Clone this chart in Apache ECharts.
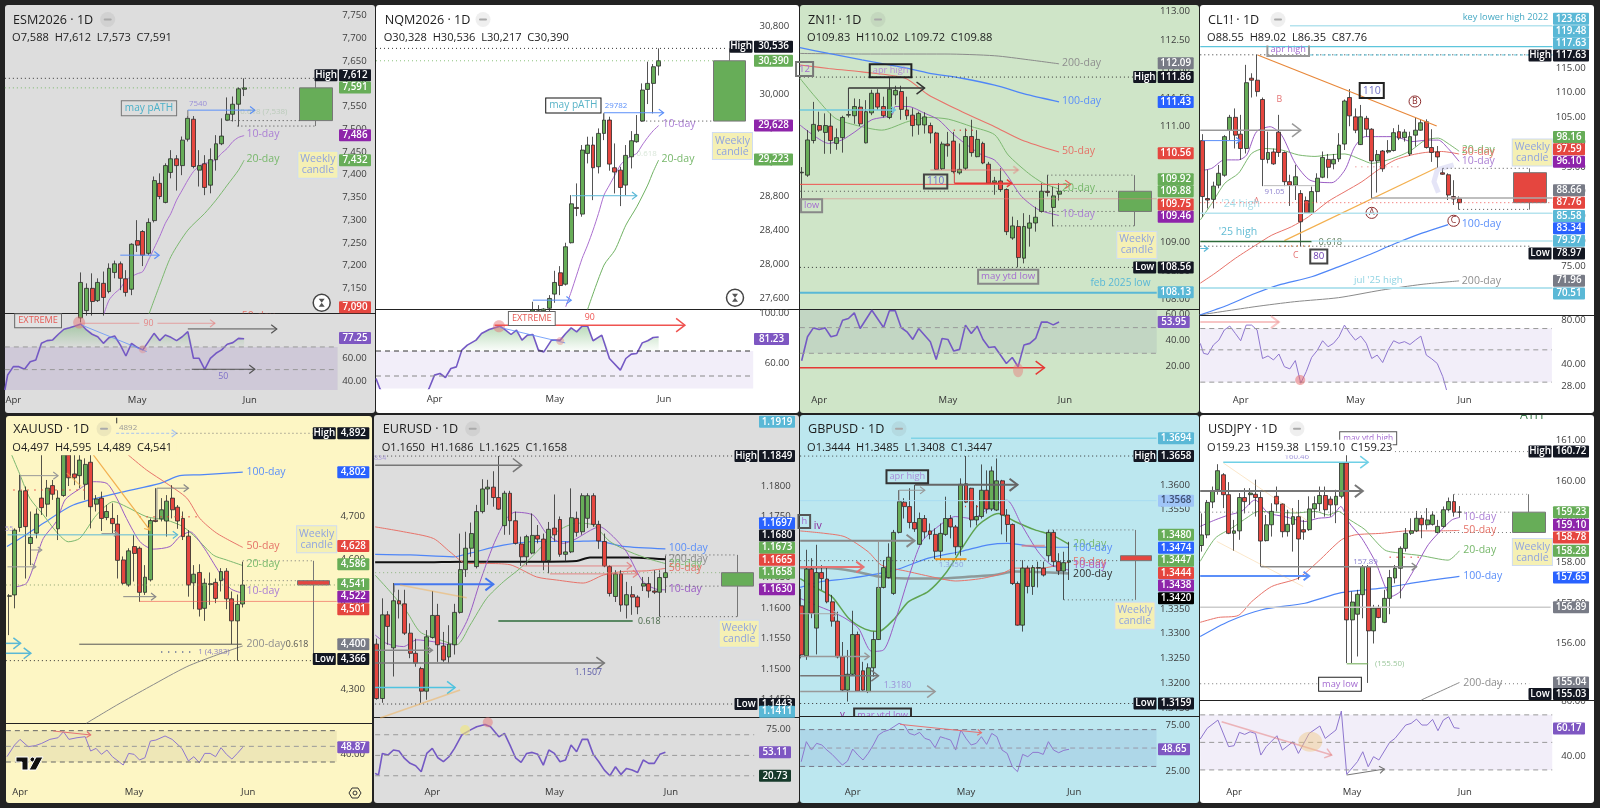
<!DOCTYPE html>
<html>
<head>
<meta charset="utf-8">
<title>Daily chart grid</title>
<style>html,body{margin:0;padding:0;background:#222}#chart{width:1600px;height:808px}</style>
<script src="https://cdn.jsdelivr.net/npm/echarts@6/dist/echarts.min.js"></script>
</head>
<body>
<div id="chart"></div>
<script>
// Candle rows are [open, close, low, high]; the first row of each list sits on the trading day named by *Start.
const esStart = 12;
const esCandles = [[7085,7163,7075,7185],[7101,7150,7090,7161],[7150,7121,7090,7183],[7123,7163,7120,7172],[7161,7130,7090,7187],[7143,7194,7139,7205],[7185,7204,7172,7211],[7204,7172,7146,7209],[7171,7141,7132,7190],[7148,7247,7135,7249],[7255,7245,7230,7300],[7275,7223,7199,7278],[7227,7295,7223,7304],[7299,7387,7295,7396],[7381,7352,7346,7403],[7339,7420,7337,7425],[7405,7435,7392,7454],[7435,7420,7365,7443],[7420,7476,7399,7484],[7478,7524,7473,7529],[7522,7418,7414,7529],[7410,7420,7374,7454],[7424,7372,7355,7443],[7377,7433,7359,7458],[7433,7468,7409,7487],[7468,7485,7465,7524],[7520,7533,7519,7570],[7533,7555,7517,7572],[7555,7589,7506,7592],[7588,7591,7573,7612]];
const esWeekly = [7519,7591,7507,7612];
const esMa10 = [[16,7090],[17,7124],[18,7139],[19,7150],[20,7168],[21,7176],[22,7182],[23,7187],[24,7212],[25,7238],[26,7264],[27,7293],[28,7315],[29,7344],[30,7366],[31,7388],[32,7407],[33,7419],[34,7425],[35,7427],[36,7434],[37,7447],[38,7458],[39,7473],[40,7482],[41,7486]];
const esMa20 = [[24,7090],[26,7157],[28,7220],[31,7278],[34,7315],[36,7344],[38,7377],[40,7410],[41,7432]];
const esRsi = [[-1.5,32],[-1,45.3],[0,52.6],[1,52.6],[2,50.3],[3,57],[4,58.5],[5,73.2],[6,75.6],[7,76.2],[8,81.2],[9,85.6],[10,87],[11,88.5],[12,90.3],[13,85],[14,81.2],[15,79],[16,73.2],[17,78.2],[18,79.7],[19,71.8],[20,62],[21,73.2],[22,69.7],[23,67.4],[24,74.7],[25,82],[26,75.6],[27,80.6],[28,78.5],[29,75.6],[30,79],[31,83.5],[32,60],[33,60],[34,50.3],[35,60],[36,64.4],[37,67.4],[38,72.4],[39,73.8],[40,77.6],[41,77.25]];
const esTicks = [7750,7700,7650,7600,7550,7500,7450,7400,7350,7300,7250,7200,7150];
const esRsiTicks = [60,40];

const nqStart = 18;
const nqCandles = [[27440,27460,27400,27556],[27430,27450,27400,27516],[27450,27470,27420,27480],[27480,27595,27440,27634],[27646,27783,27544,27920],[27897,27747,27634,27975],[27763,28203,27747,28250],[28250,28708,28242,28810],[28665,28653,28563,28948],[28587,29340,28556,29399],[29301,29399,29183,29497],[29399,29132,28751,29497],[29144,29536,29065,29595],[29536,29693,29457,29771],[29693,29175,29097,29732],[29132,29081,28830,29418],[29104,28900,28681,29144],[28928,29277,28810,29399],[29261,29450,29124,29563],[29438,29524,29426,29752],[29681,30046,29673,30124],[30053,30124,29881,30379],[30124,30320,29771,30352],[30328,30390,30217,30536]];
const nqWeekly = [29681,30390,29681,30536];
const nqMa10 = [[24,27496],[25,27673],[26,27869],[27,28065],[28,28222],[29,28398],[30,28595],[31,28810],[32,28928],[33,29046],[34,29163],[35,29230],[36,29269],[37,29301],[38,29399],[39,29489],[40,29567],[41,29628]];
const nqMa20 = [[28,27465],[31,27987],[33,28163],[35,28457],[37,28673],[39,28928],[40,29085],[41,29223]];
const nqRsi = [[-10.7,48],[-10,40],[-9,32],[-2,32],[-1,40],[0,50.7],[1,52],[2,48.8],[3,56],[4,57.3],[5,70.7],[6,74.7],[7.6,78.7],[8.6,84],[10,87.2],[12,89.9],[13,86.7],[14,83.2],[15,86.7],[16,78.7],[17,82.7],[18,83.2],[19,70.7],[20,69.3],[21.4,78.7],[23,78.7],[24,84],[25,88.5],[26,85.3],[27,89.9],[28,89.9],[29,78.2],[30.6,82.7],[32,64],[34,54.7],[35,64],[36,67.5],[37,68],[38,76.5],[39,78.2],[40,80.8],[41,81.23]];
const nqTicks = [30800,30400,30000,29600,29200,28800,28400,28000,27600];
const nqRsiTicks = [100,60];

const znStart = -3;
const znCandles = [[110.2,110.21,109.7,110.3],[110.16,110.77,110.13,110.94],[110.76,111.04,110.71,111.43],[111.02,110.94,110.91,111.26],[110.90,111.02,110.53,111.23],[111.01,110.76,110.53,111.23],[110.71,110.81,110.60,110.97],[110.81,111.16,110.55,111.19],[111.20,111.21,111.16,111.67],[111.19,111.35,111.05,111.49],[111.34,111.05,111.01,111.48],[110.72,111.26,110.71,111.46],[111.24,111.58,111.20,111.64],[111.58,111.34,111.29,111.65],[111.35,111.19,111.16,111.52],[111.16,111.65,111.13,111.86],[111.55,111.63,111.38,111.71],[111.61,111.30,111.12,111.71],[111.29,111.19,111.12,111.52],[111.20,111.02,110.83,111.32],[111.03,111.23,110.86,111.26],[111.03,111.17,110.88,111.25],[111.02,110.89,110.71,111.07],[110.89,110.26,110.25,110.91],[110.27,110.70,110.25,110.74],[110.70,110.67,110.48,110.91],[110.75,110.22,110.19,110.91],[110.20,110.26,110.17,110.71],[110.28,110.83,110.25,110.97],[110.83,110.55,110.48,111.12],[110.48,110.78,110.47,110.94],[110.71,110.37,110.35,110.74],[110.35,110.02,110.01,110.39],[110.03,110.06,109.82,110.13],[110.06,109.91,109.87,110.28],[109.91,109.18,109.12,109.93],[109.07,109.28,109.04,109.44],[109.27,108.73,108.56,109.38],[108.72,109.27,108.63,109.50],[109.24,109.33,108.92,109.47],[109.33,109.43,109.18,109.61],[109.53,109.88,109.51,110.02],[109.88,109.86,109.79,110.16],[109.60,109.80,109.27,109.96],[109.83,109.88,109.72,110.02]];
const znWeekly = [109.53,109.88,109.28,110.16];
const znMa10 = [[-3.3,111.03],[-0.7,110.83],[1.6,110.71],[3.9,110.77],[6.1,110.91],[9,111.12],[12.4,111.20],[13,111.35],[15.2,111.35],[18.1,111.23],[20.4,111.12],[22.7,110.89],[24.9,110.71],[27.8,110.51],[30,110.42],[32.3,110.13],[34.6,109.79],[37.5,109.56],[41,109.46]];
const znMa20 = [[-3.3,111.84],[-0.7,111.52],[2.7,111.15],[6.1,111.03],[10.7,110.94],[15.2,111.09],[18.7,111.16],[22.1,111.13],[26.1,111.00],[30,110.86],[32.3,110.51],[35.8,110.19],[38.3,110.02],[41,109.92]];
const znMa50 = [[-3.3,112.07],[1.6,112.01],[7.3,111.95],[14.7,111.84],[18.7,111.55],[24.4,111.26],[30,111.00],[34.6,110.77],[41,110.56]];
const znMa100 = [[-3.3,112.37],[1.6,112.27],[7.3,112.16],[14.7,112.02],[18.7,111.93],[24.4,111.84],[30,111.72],[35.8,111.55],[41,111.43]];
const znMa200 = [[-3.3,112.27],[7.3,112.26],[21.5,112.26],[30,112.23],[35.8,112.16],[41,112.09]];
const znRsi = [[-3,24.3],[-2,42.7],[-1,49.5],[0,48.3],[1,49.5],[2,42.7],[3,43.9],[4,55.4],[5,56.7],[6,61],[7,49],[9,63],[11,49.8],[12,62.6],[13,62.6],[14,49.8],[15,46.5],[16,40.6],[17,49],[19,38.8],[20,25.3],[21,41.4],[22,40.6],[23,31.7],[24,33],[25,51.6],[26,45.2],[27,50.8],[28,40.6],[29,34.5],[30,35],[32,22.2],[33,26.8],[34,19.7],[35,36.3],[36,37.6],[37,41.4],[38,53.9],[39,53.9],[40,51.8],[41,53.95]];
const znTicks = [113,112.5,112,111.5,111,110.5,110,109.5,109,108.5,108];
const znRsiTicks = [60,40,20];

const clStart = -7;
const clCandles = [[100.3,89.0,84.9,101.6],[88.6,88.3,86.6,94.4],[88.43,91.1,86.6,92],[91.3,93.7,90.66,95.37],[93.3,101.1,93,101.4],[102.4,105,100.4,105.5],[105,101.4,98.7,106.8],[101.6,98.7,96.4,105.5],[98.7,112,97.7,115.6],[112.9,112.5,109,113.9],[112.5,110.2,109.2,117.63],[108.6,96.5,91.1,109],[96.5,97.9,95.7,102.1],[98,95.6,95.4,98.7],[102,97.9,97,105.5],[97.9,92,91.1,98.1],[92,91.3,87.1,93.4],[91.3,93,88.3,95.4],[89.6,83.9,78.97,90.3],[88.2,85.7,85.6,89],[85.6,90,85.5,91],[90,92.7,87.8,93.7],[92.9,96.9,92.7,98.1],[96.5,94.9,92.7,97.6],[95.6,96.5,94.5,97.6],[96.6,99.4,96,101.8],[99.6,108.3,98.4,108.6],[109,105.3,103.2,110.7],[105.1,102.4,101.8,106.8],[99.5,105.1,99.4,107.5],[104.8,102.6,101.1,105.3],[102.6,96.2,88.6,102.8],[96.2,97.5,89.8,98.4],[98.2,94.6,94,98.4],[98,98.3,97.7,100.4],[98.3,101.9,98.1,102.8],[102.1,100.8,100.4,103.5],[100.9,102,100.1,102.6],[97.6,101.1,97.2,102.1],[101.4,102.4,99.1,105],[102.4,103.9,102.3,104.6],[104.1,98.9,98.7,104.6],[98.9,97.9,96,102.6],[98,97,94.8,99.2],[93.8,93.5,93.4,94.7],[93.4,89.3,88.3,93.7],[89,88.5,87.3,92.3],[88.55,87.76,86.35,89.02]];
const clWeekly = [93.82,87.76,86.35,94.7];
const clMa10 = [[-7.4,94.2],[-5.3,94.7],[-3,96.4],[-0.4,96.4],[1.1,97.4],[2.9,102.1],[5.4,103.1],[7.5,101.4],[10,95.7],[12.7,92.3],[16.7,91.8],[19.1,94.4],[20.9,99.1],[22.8,101.1],[25.2,101.1],[28.3,101.1],[31.3,100.1],[34.4,100.4],[36.2,100.4],[38,98.7],[40,96.1]];
const clMa20 = [[-7.4,84.26],[-5.3,87.6],[-2.9,91.7],[-0.4,93.7],[2,97.7],[4.4,98.7],[7.5,98.4],[10.6,97.4],[13.6,97.1],[16,97.4],[19.1,97.6],[22.2,96.4],[24,95.7],[27,96.4],[29.5,97.4],[31.3,98.4],[33.8,100.4],[36.2,100.8],[38,99.7],[40,98.16]];
const clMa50 = [[-7.4,71.5],[-4.7,73.5],[-1,76.5],[3.2,79.5],[5.7,81.2],[9.3,82.9],[12.4,84.9],[16,88],[19.1,90],[22.2,92],[25.2,94.4],[28.3,96.4],[31.3,97.4],[33.8,97.9],[36.8,98.1],[40,97.59]];
const clMa100 = [[-7.5,65.07],[-2.3,67.1],[2.6,69.4],[6.9,71.1],[13,72.8],[17.9,74.8],[23.4,77.2],[28.3,79.5],[33.2,81.6],[38,83.34]];
const clMa200 = [[-7.5,65.07],[2.6,66.75],[9.9,67.76],[17.9,68.57],[25.8,70.1],[33.2,71.26],[40,71.96]];
const clRsi = [[-7.4,55.4],[-6.8,47.3],[-6,46.5],[-5,54],[-4,58.3],[-3,68.4],[-2,72.8],[-1,64.9],[0,57.7],[1,73.9],[2,73.9],[3,68.4],[4,43.6],[5,45.4],[6,42.6],[7,46.8],[8,38.3],[9,37],[10,42.2],[11,29.5],[12,35.4],[13,44.4],[14,49.4],[15,57.7],[16,52.5],[17,55.4],[18,61.5],[19,73.9],[20,64.9],[21,58.3],[22,62.1],[23,55.4],[24,43.6],[25,46],[26,40.9],[27,49.9],[28,57.7],[29,55.4],[30,56.9],[31,54.4],[32,58.3],[33,62.1],[34,46],[35,43.3],[36,40.3],[37,32.8],[37.7,26.5]];
const clTicks = [115,110,105,100,95,90,85,80,75];
const clRsiTicks = [80,40,28];

const xauStart = -2;
const xauCandles = [[4515,4516,4425,4520],[4518,4668,4487,4672],[4674,4759,4664,4796],[4759,4676,4556,4769],[4637,4651,4587,4711],[4661,4705,4649,4718],[4742,4720,4703,4842],[4728,4765,4699,4784],[4771,4751,4738,4784],[4671,4742,4645,4760],[4748,4842,4745,4858],[4842,4789,4770,4875],[4798,4789,4772,4842],[4794,4830,4765,4842],[4774,4820,4738,4834],[4825,4722,4672,4842],[4728,4740,4711,4749],[4742,4695,4666,4757],[4697,4711,4691,4726],[4695,4683,4661,4730],[4682,4598,4556,4703],[4599,4545,4541,4607],[4541,4620,4537,4626],[4630,4614,4549,4657],[4626,4524,4502,4630],[4524,4559,4518,4587],[4553,4690,4549,4695],[4691,4688,4686,4765],[4694,4715,4688,4742],[4689,4735,4653,4749],[4742,4715,4695,4772],[4721,4689,4671,4726],[4695,4653,4645,4711],[4654,4541,4514,4668],[4546,4566,4485,4587],[4570,4485,4468,4589],[4487,4545,4458,4556],[4542,4544,4495,4570],[4547,4510,4499,4556],[4551,4572,4526,4580],[4573,4509,4485,4580],[4509,4458,4404,4526],[4458,4496,4366,4519],[4497,4541,4489,4595]];
const xauWeekly = [4551,4541,4366,4597];
const xauMa10 = [[-0.6,4537],[1.2,4545],[2.8,4595],[4.3,4649],[6.7,4688],[8.3,4738],[10.7,4761],[13.5,4780],[16,4776],[17.8,4742],[19.6,4695],[22.1,4641],[24.5,4624],[27.6,4630],[29.4,4653],[31.3,4664],[33.7,4630],[36.2,4580],[38.7,4533],[41,4522]];
const xauMa20 = [[-2.3,4865],[0,4796],[1.8,4742],[4.3,4703],[6.7,4664],[8.9,4641],[11,4649],[14.1,4703],[17.2,4734],[19.6,4722],[23.3,4699],[27,4691],[30,4676],[32.5,4649],[35.6,4610],[38,4599],[41,4586]];
const xauMa50 = [[19.9,4842],[23.3,4807],[27,4776],[30.7,4742],[33.1,4695],[36.2,4661],[41,4628]];
const xauMa100 = [[-2.4,4630],[0.6,4653],[4.3,4684],[9.8,4726],[17.8,4753],[25.8,4776],[29.4,4794],[33.1,4796],[41,4802]];
const xauMa200 = [[12.2,4221],[17.8,4263],[23.9,4306],[30.7,4352],[36.2,4379],[41,4400]];
const xauRsi = [[-2.4,36.8],[-1,51.7],[0,58.9],[1.5,49.6],[2.8,50.9],[4,53.8],[5.5,58.9],[7,61],[8,68.7],[9,58.9],[10.5,61],[12,62.3],[13,44],[14,47.4],[15,39.8],[16,45.3],[17,36.8],[19,26.2],[20,41],[21,39.8],[22,32.6],[23,35.5],[24,56.8],[25,58],[26.7,63.2],[28,58.9],[29.8,47.4],[31,31.3],[32,36.8],[33,29.1],[34,41],[35,41],[36,36.8],[37,48.3],[38,39.8],[39,33.8],[40,41],[41,48.87]];
const xauTicks = [4700,4600,4500,4400,4300];
const xauRsiTicks = [40];

const eurStart = -10;
const eurCandles = [[1.1541,1.1452,1.1450,1.1550],[1.1452,1.1589,1.1445,1.1616],[1.1589,1.1570,1.1540,1.1595],[1.1535,1.1612,1.1488,1.1641],[1.1612,1.1607,1.1583,1.1630],[1.1607,1.1559,1.1556,1.1630],[1.1559,1.1526,1.1518,1.1575],[1.1526,1.1510,1.1504,1.1550],[1.1501,1.1464,1.1445,1.1504],[1.1464,1.1553,1.1450,1.1564],[1.1552,1.1588,1.1550,1.1628],[1.1588,1.1540,1.1512,1.1607],[1.1538,1.1515,1.1512,1.1561],[1.1520,1.1541,1.1510,1.1572],[1.1540,1.1593,1.1524,1.1607],[1.1593,1.1663,1.1591,1.1722],[1.1663,1.1698,1.1651,1.1725],[1.1698,1.1722,1.1684,1.1740],[1.1668,1.1758,1.1665,1.1769],[1.1758,1.1795,1.1755,1.1811],[1.1795,1.1798,1.1769,1.1810],[1.1798,1.1781,1.1766,1.1824],[1.1781,1.1762,1.1761,1.1849],[1.1735,1.1788,1.1720,1.1792],[1.1788,1.1743,1.1720,1.1792],[1.1743,1.1706,1.1704,1.1758],[1.1705,1.1684,1.1669,1.1717],[1.1684,1.1717,1.1670,1.1720],[1.1690,1.1719,1.1688,1.1755],[1.1719,1.1713,1.1706,1.1736],[1.1713,1.1677,1.1662,1.1722],[1.1678,1.1729,1.1657,1.1741],[1.1731,1.1720,1.1709,1.1786],[1.1745,1.1688,1.1684,1.1750],[1.1688,1.1692,1.1676,1.1709],[1.1692,1.1748,1.1690,1.1796],[1.1747,1.1724,1.1717,1.1758],[1.1725,1.1784,1.1720,1.1788],[1.1747,1.1784,1.1731,1.1788],[1.1784,1.1737,1.1733,1.1788],[1.1737,1.1710,1.1697,1.1743],[1.1709,1.1669,1.1667,1.1722],[1.1668,1.1624,1.1619,1.1670],[1.1619,1.1656,1.1610,1.1662],[1.1656,1.1605,1.1594,1.1662],[1.1605,1.1622,1.1583,1.1643],[1.1622,1.1618,1.1589,1.1636],[1.1618,1.1602,1.1590,1.1621],[1.1636,1.1640,1.1628,1.1651],[1.1640,1.1628,1.1617,1.1651],[1.1628,1.1626,1.1623,1.1662],[1.1626,1.1650,1.1586,1.1662],[1.1650,1.1658,1.1625,1.1686]];
const eurWeekly = [1.1636,1.1658,1.1586,1.1687];
const eurMa10 = [[-10.3,1.1556],[-8.2,1.1542],[-5.2,1.1537],[-2.8,1.1548],[0.2,1.1545],[3.2,1.1540],[6.2,1.1578],[8.6,1.1643],[11,1.1703],[13.4,1.1747],[14.9,1.1757],[18.2,1.1752],[20.6,1.1722],[23.6,1.1706],[25.4,1.1711],[30.2,1.1733],[32.6,1.1717],[35,1.1692],[38,1.1643],[41,1.1630],[42,1.1630]];
const eurMa20 = [[-10.3,1.1654],[-7.6,1.1627],[-4.6,1.1594],[-2.2,1.1561],[0.8,1.1550],[4.4,1.1540],[6.8,1.1572],[9.8,1.1616],[12.8,1.1643],[15.8,1.1665],[18.8,1.1692],[22.4,1.1725],[26,1.1739],[29,1.1736],[32,1.1709],[35.6,1.1692],[39.2,1.1680],[42,1.1673]];
const eurMa50 = [[-10.3,1.1733],[-5.2,1.1725],[0.2,1.1714],[3.2,1.1692],[6.2,1.1673],[9.8,1.1673],[14,1.1671],[18.8,1.1651],[22.4,1.1646],[27.2,1.1641],[30.8,1.1654],[34.4,1.1660],[38.6,1.1661],[42,1.1665]];
const eurMa100 = [[-10.3,1.1688],[-4,1.1687],[3.8,1.1684],[6.8,1.1690],[12.8,1.1703],[18.8,1.1709],[24.8,1.1709],[29.6,1.1710],[34.4,1.1701],[42,1.1697]];
const eurMa200 = [[-10.3,1.1675],[-2.2,1.1675],[5.6,1.1676],[14,1.1676],[21.2,1.1676],[26,1.1677],[28.4,1.1683],[35.6,1.1683],[42,1.1680]];
const eurRsi = [[-10.3,32.6],[-9.7,31],[-9,51.9],[-8,50.3],[-7,55.2],[-6,54.2],[-5,47.1],[-4,42.3],[-3,40],[-2,34.2],[-1,51.9],[0,56.8],[1,47.7],[2,43.9],[3,48.7],[4,56.8],[5.3,69.7],[6.8,74.5],[8,77.7],[9.5,80],[10.5,77.7],[12,68],[13,71.3],[14,60],[15,47.7],[16,43.2],[17,51.9],[18,52.9],[19,51],[20,40.6],[21,55.2],[22,51.9],[23,43.9],[24,45.5],[25,60],[26,53.5],[27,65.5],[28,65.5],[29,51],[30,43.9],[31,35.8],[32,30.3],[33,39],[34,31.6],[35,37.4],[36,35.8],[37,33.5],[38,45.5],[39,42.3],[40,42.3],[41,51],[42,53.11]];
const eurTicks = [1.18,1.175,1.17,1.165,1.16,1.155,1.15,1.145];
const eurRsiTicks = [75];

const gbpStart = -10;
const gbpCandles = [[1.3356,1.3257,1.3250,1.3390],[1.3255,1.3430,1.3247,1.3469],[1.3430,1.3341,1.3331,1.3452],[1.3311,1.3423,1.3258,1.3479],[1.3423,1.3411,1.3388,1.3438],[1.3410,1.3364,1.3361,1.3432],[1.3364,1.3325,1.3314,1.3378],[1.3325,1.3253,1.3250,1.3344],[1.3253,1.3186,1.3183,1.3283],[1.3186,1.3218,1.3163,1.3267],[1.3218,1.3298,1.3215,1.3346],[1.3298,1.3184,1.3183,1.3304],[1.3225,1.3186,1.3184,1.3243],[1.3183,1.3231,1.3180,1.3240],[1.3231,1.3288,1.3213,1.3304],[1.3288,1.3393,1.3287,1.3485],[1.3393,1.3433,1.3391,1.3448],[1.3413,1.3454,1.3411,1.3482],[1.3381,1.3504,1.3378,1.3509],[1.3504,1.3566,1.3502,1.3589],[1.3565,1.3556,1.3532,1.3573],[1.3556,1.3524,1.3512,1.3593],[1.3524,1.3511,1.3505,1.3600],[1.3480,1.3532,1.3479,1.3544],[1.3532,1.3505,1.3492,1.3539],[1.3507,1.3500,1.3490,1.3522],[1.3500,1.3466,1.3450,1.3512],[1.3466,1.3502,1.3451,1.3522],[1.3500,1.3532,1.3497,1.3576],[1.3532,1.3515,1.3492,1.3539],[1.3515,1.3475,1.3458,1.3519],[1.3475,1.3601,1.3457,1.3613],[1.3602,1.3565,1.3563,1.3658],[1.3593,1.3529,1.3514,1.3594],[1.3529,1.3536,1.3518,1.3559],[1.3536,1.3589,1.3532,1.3641],[1.3589,1.3551,1.3542,1.3629],[1.3551,1.3628,1.3547,1.3637],[1.3549,1.3608,1.3547,1.3653],[1.3608,1.3539,1.3500,1.3610],[1.3539,1.3520,1.3485,1.3551],[1.3520,1.3401,1.3398,1.3522],[1.3401,1.3317,1.3316,1.3405],[1.3317,1.3432,1.3304,1.3448],[1.3432,1.3395,1.3381,1.3437],[1.3395,1.3433,1.3378,1.3438],[1.3432,1.3433,1.3393,1.3445],[1.3432,1.3418,1.3415,1.3445],[1.3457,1.3504,1.3445,1.3509],[1.3504,1.3445,1.3435,1.3509],[1.3445,1.3426,1.3418,1.3462],[1.3426,1.3443,1.3368,1.3465],[1.3444,1.3447,1.3408,1.3485]];
const gbpWeekly = [1.3457,1.3447,1.3368,1.3509];
const gbpMa10 = [[-10.2,1.3371],[-7.3,1.3358],[-4,1.3344],[-1.5,1.3331],[1.1,1.3311],[3.7,1.3264],[6,1.3267],[8.2,1.3324],[10.8,1.3411],[13.4,1.3485],[16.6,1.3516],[19.9,1.3536],[23.1,1.3532],[27,1.3556],[29.9,1.3569],[32.8,1.3519],[36,1.3465],[38.6,1.3438],[42,1.3428]];
const gbpMa20 = [[-10.2,1.3411],[-7.3,1.3393],[-4,1.3374],[-0.8,1.3331],[2.4,1.3309],[5,1.3304],[8.2,1.3331],[10.8,1.3364],[14.7,1.3385],[18,1.3421],[21.2,1.3472],[24.4,1.3519],[28.3,1.3542],[31.5,1.3526],[35.4,1.3509],[38.6,1.3499],[42,1.3480]];
const gbpMa50 = [[-10.2,1.3507],[-5.4,1.3502],[-1.5,1.3495],[3,1.3465],[5.6,1.3438],[10.8,1.3425],[16,1.3413],[19.9,1.3406],[25,1.3411],[29,1.3421],[31.5,1.3432],[36.7,1.3432],[42,1.3444]];
const gbpMa100 = [[-10.2,1.3393],[-6,1.3405],[-0.8,1.3411],[8.2,1.3428],[14.7,1.3452],[21.2,1.3466],[26.3,1.3479],[30.2,1.3482],[35.4,1.3475],[42,1.3474]];
const gbpMa200 = [[-10.2,1.3432],[-4.7,1.3432],[0.5,1.3425],[5,1.3415],[10.2,1.3411],[16.6,1.3411],[23.1,1.3415],[27.6,1.3418],[31.5,1.3425],[42,1.3421]];
const gbpRsi = [[-10,35.1],[-9,56.9],[-8,47.8],[-7,55.1],[-6,53.3],[-5,47.8],[-4,43.1],[-2,31.5],[-1,35.9],[0,48.9],[1,42.4],[2,37],[3,44.2],[4,53.3],[5,64.1],[6,67.8],[7,69.6],[8,73.2],[9,76.8],[10,75],[11,65.9],[12,64.1],[13,67],[14,60.5],[15,58.7],[16,50.4],[17,62.3],[18,60.5],[19,58.7],[20,47.8],[21,69.6],[22,60.5],[23,53.3],[24,55.1],[25,62.3],[26,54],[27,65.9],[28,62.3],[29,47.8],[30,44.2],[31,29.7],[32,24.3],[33,43.1],[34,40.6],[35,45.3],[36,45.3],[37,43.1],[38,56.9],[39,47.8],[40,44.9],[41,47.5],[42,48.65]];
const gbpTicks = [1.36,1.355,1.35,1.345,1.34,1.335,1.33,1.325,1.32,1.315];
const gbpRsiTicks = [75,25];

const jpyStart = -6;
const jpyCandles = [[158.41,158.67,158.26,159.2],[158.67,159.47,158.59,159.53],[159.48,159.75,159.33,159.86],[159.78,160.25,159.66,160.41],[160.15,159.66,159.33,160.19],[159.66,158.71,158.69,159.97],[158.71,158.77,158.28,159.04],[158.77,159.59,158.55,159.70],[159.59,159.49,159.2,159.82],[159.66,159.70,159.41,159.82],[159.67,159.59,159.12,160.03],[159.59,158.52,157.89,159.74],[158.53,158.92,158.51,159.16],[158.92,159.25,158.63,159.45],[159.62,159.43,159.25,159.86],[159.43,158.75,158.61,159.45],[158.75,158.93,158.63,159.29],[158.93,159.12,158.26,159.33],[159.12,158.57,157.57,159.53],[158.80,158.74,158.55,159.04],[158.80,159.31,158.77,159.62],[159.31,159.44,159.08,159.62],[159.44,159.64,159.25,159.86],[159.64,159.29,159.12,159.86],[159.55,159.41,159.12,159.62],[159.41,159.62,158.96,159.78],[159.62,160.44,159.57,160.46],[160.44,156.58,155.52,160.72],[156.58,157.02,155.52,157.28],[156.72,157.21,155.68,157.32],[157.2,157.89,156.62,157.93],[157.89,156.31,155.03,157.93],[156.31,156.87,156.0,156.95],[156.87,156.64,156.62,156.95],[156.52,157.11,156.50,157.32],[157.11,157.62,156.72,157.81],[157.61,157.85,157.48,157.93],[157.85,158.34,157.11,158.39],[158.34,158.71,158.26,158.84],[158.71,158.77,158.67,159.08],[158.77,159.08,158.74,159.26],[159.08,158.92,158.59,159.16],[158.92,159.04,158.80,159.33],[158.93,159.16,158.90,159.25],[158.73,158.88,158.71,159.04],[158.88,159.29,158.85,159.37],[159.29,159.49,159.25,159.59],[159.49,159.23,159.12,159.67],[159.23,159.23,159.10,159.38]];
const jpyWeekly = [158.73,159.23,158.73,159.67];
const jpyMa10 = [[-6.3,158.88],[-3.5,159.04],[-1,159.16],[1.4,159.25],[3.9,159.53],[6.4,159.21],[9.5,159.12],[13.2,159.0],[15.7,159.08],[18.2,159.12],[19.9,159.37],[21.3,159.0],[23.8,158.59],[26.3,158.02],[29.4,157.16],[31,157.28],[33.7,157.85],[36.2,158.43],[38.7,158.80],[40.6,159.04],[42,159.10]];
const jpyMa20 = [[-6.3,158.02],[-3.5,158.59],[-0.4,158.84],[2.7,159.12],[4.5,159.25],[7.6,159.23],[11.4,159.21],[15.1,159.25],[17.6,159.16],[19.4,159.25],[21.6,159.04],[24.4,158.80],[28.1,158.30],[31.2,158.22],[34.9,158.16],[39.9,158.05],[42,158.28]];
const jpyMa50 = [[-6.3,156.52],[-2.9,156.64],[0.8,156.69],[3.3,157.03],[7,157.40],[12,157.61],[15.7,158.02],[20,158.55],[22.5,158.67],[27.5,158.71],[32.5,158.77],[37.5,158.77],[42,158.78]];
const jpyMa100 = [[-6.3,156.17],[-1,156.54],[5.2,156.83],[13.2,156.99],[20,157.25],[27.5,157.36],[34.9,157.52],[42,157.65]];
const jpyMa200 = [[34.9,154.61],[42,155.04]];
const jpyRsi = [[-6.3,52.4],[-5,60.2],[-3,66.2],[-1,46.9],[0,47.6],[1,57.3],[2,55.8],[3,57.7],[4,56.5],[5,40.8],[6,46.9],[8,54.8],[9,44.4],[11,50.5],[12,42],[14,56.5],[16,61.9],[17,52.9],[19,59],[20,72.8],[21,26.8],[23,36],[24,43.2],[25,32.3],[26,39.6],[27,37.2],[29,50],[30,52.9],[32,62.6],[33,63.8],[34,66.9],[35,62.6],[36,62.6],[37,66.7],[38,58.5],[39,66.2],[40,68.6],[41,60.7],[42,60.17]];
const jpyTicks = [161,160,159,158,157,156,155];
const jpyRsiTicks = [80,40];

// Palette shared by the panes
const GREEN = '#67ad58', RED = '#e5463f', PURPLE = '#8e24aa', BLUE = '#2962ff', CYAN = '#5ab8d6', GREY = '#787b86', INK = '#131722', RSI_TAG = '#7e57c2';
const C10 = '#ab6fd0', C20 = '#7cb870', C50 = '#e8736a', C100 = '#4f86f7', C200 = '#8a8a8a';
const LC10 = '#ab7fd4', LC20 = '#78b86c', LC50 = '#e57368', LC100 = '#5b8ff9', LC200 = '#8f8f8f';
const BANDV = 'rgba(126,87,194,0.10)';
const PINK = 'rgba(230,120,120,0.5)', ARROWBLUE = '#5b8ff9', LBL = '#9a8fd8', TXTP = '#a46bd0';
const DOT = [1, 3], DASH = [5, 4];
const FONT = '"Open Sans","Noto Sans",sans-serif';

// Annotation helpers: positions are in (trading day, price) space
const L = (x1, y1, x2, y2, c, w = 1, dash = null, arrow = 0) => ({ k: 'line', p: [[x1, y1], [x2, y2]], c, w, dash, arrow });
const P = (p, c, w = 1) => ({ k: 'line', p, c, w, dash: null, arrow: 0 });
const T = (x, y, t, c, s = 10, o = {}) => ({ k: 'text', x, y, t, c, s, ...o });
const M = (x, y, t, c) => T(x, y, t, c, 12, { align: 'left' });
const B = (x, y, t, c, s = 11, border = '#333', bg = null, o = {}) => T(x, y, t, c, s, { box: true, border, bg, ...o });
const W = (x, y) => T(x, y, 'Weekly\ncandle', '#8fa3e0', 12, { box: true, border: '#cfdcf2', bg: '#f5f0b4', lh: 11, pad: [2, 2, 2, 2] });
const O = (x, y, rx, ry, c) => ({ k: 'oval', x, y, rx, ry, c });
const R = (x1, y1, x2, y2, c) => ({ k: 'rect', x1, y1, x2, y2, c });

const esNotes = [
  L(-1.5,7612,53.8,7612,'#333',1,DOT), L(-1.5,7591,50.3,7591,'#7ab86c',1,DOT),
  L(31,7542,31,7524,'#777'), L(31,7542,42.9,7542,ARROWBLUE,1,null,6), T(32.8,7556,'7540',LBL,9),
  T(44.5,7539,'0.618 (7,538)','rgba(120,170,120,0.35)',9),
  B(24.1,7546,'may pATH','#4bb0c8',11.5,'#777','#dddddd'),
  L(19,7223,25.9,7223,ARROWBLUE,1,null,6),
  M(41.4,7489,'10-day',LC10), M(41.4,7434,'20-day',LC20),
  T(43.5,7090,'50-day',LC50,12,{clip:true}),
  L(39.8,7507,53.8,7507,'#444',1,DOT), L(37.9,7519,50.9,7519,'#444',1,DOT),
  W(54.1,7422)
];
const esRsiNotes = [
  R(-1.5,70,57.6,32,'rgba(126,87,194,0.14)'),
  L(-1.5,70,57.6,70,'#999',1,DASH), L(-1.5,50,57.6,50,'#999',1,DASH),
  O(11.7,91.5,6,6,PINK), L(12,90.9,35.8,90.9,'rgba(230,120,120,0.6)',1,null,6),
  T(24,90.9,'90','rgba(230,120,120,0.85)',10,{box:true,bg:'#dddddd',border:'#dddddd',pad:[0,3,0,3]}),
  L(31,85.9,46.8,85.9,'#555',1,null,7), L(31.7,50.3,42.9,50.3,'#555',1,null,7),
  T(37.3,43.8,'50','#7e70c8',10),
  L(12.1,89.4,23.7,65.9,'rgba(91,143,249,0.75)'), O(23,67.9,4,4,'rgba(230,120,120,0.35)'),
  B(4.4,93.2,'EXTREME','#e55a55',10.5,'#666','#e3e3e3')
];
const nqNotes = [
  L(-10.7,30536,53.7,30536,'#333',1,DOT), L(-10.7,30390,51,30390,'#8ac27c',1,DOT),
  L(31,29779,31,29700,'#777'), L(31,29779,41.9,29779,ARROWBLUE,1,null,6), T(33.2,29858,'29782',ARROWBLUE,9),
  B(25.4,29865,'may pATH','#5ab4c8',11.5,'#111','#fff'),
  L(25.1,28803,37,28803,CYAN,1,null,6), L(18,27575,25,27575,ARROWBLUE,1,null,6),
  T(38.8,29301,'0.618','rgba(120,170,120,0.3)',9),
  M(41.7,29642,'10-day',LC10), M(41.5,29230,'20-day',LC20),
  L(38,29681,51,29681,'#444',1,DOT),
  W(54.5,29387)
];
const nqRsiNotes = [
  R(-10.7,70,58.3,40,BANDV),
  L(-10.7,70,58.3,70,'#333',1,DASH), L(-10.7,50,58.3,50,'#888',1,DASH),
  O(11.8,89.9,6,6,PINK), L(11,90.7,45.8,90.7,'#ef5350',1.5,null,11), T(28.4,96.5,'90','#ef5350',10),
  B(17.8,96,'EXTREME','#e55a55',10.5,'#666','#fff'),
  L(12,88.8,23.9,76.5,'rgba(91,143,249,0.8)'), O(23,78,4,4,'rgba(230,120,120,0.4)')
];
const znNotes = [
  L(-3.3,111.86,53.7,111.86,'#333',1,DOT), L(-3.3,108.56,53.9,108.56,'#333',1,DOT), L(-3.3,109.88,51,109.88,'#555',1,DOT),
  B(-2.5,112,'12',TXTP,11,'#777'), B(12.2,111.97,'apr high','#b48ad8',10.5,'#222'),
  L(5,111.2,5,111.67,'#444'), L(5,111.67,18,111.67,'#333',1.5,null,10),
  L(-3.3,111.29,13,111.29,'#6fc8de',1.5,null,5), L(23,110.94,27,110.94,'#e53935',1.5,[1,5]),
  L(19,110.25,34,110.25,'rgba(230,120,120,0.4)',2,null,6),
  L(23.1,110.22,23.1,110.02,'#c44'), L(23.1,110.02,32.9,110.02,'#e53935',1.5,null,6),
  L(-3.3,110,43,110,'#ef5350',1,null,7),
  L(-3.3,109.75,57.7,109.75,'rgba(220,130,130,0.55)',1),
  B(19.9,110.05,'110','#7070c8',11.5,'#444'), B(-1.3,109.63,'low',TXTP,10.5,'#888'),
  L(39,110.16,54,110.16,'#555',1,DOT), L(40,109.28,54,109.28,'#555',1,DOT), L(38,109.53,51,109.53,'#555',1,DOT),
  M(41.5,112.11,'200-day',LC200), M(41.5,111.44,'100-day',LC100), M(41.5,110.58,'50-day',LC50), M(41.5,109.93,'20-day',LC20), M(41.5,109.49,'10-day',LC10),
  B(32.3,108.4,'may ytd low',TXTP,11,'#888'), T(51.5,108.28,'feb 2025 low',CYAN,11.5),
  L(-3.3,108.12,57.7,108.12,CYAN,2),
  W(54.3,108.95)
];
const znRsiNotes = [
  R(-3.3,63.6,57.7,30,'rgba(90,90,160,0.10)'),
  L(-3.3,49.7,57.7,49.7,'#999',1,DASH), L(-3.3,30,57.7,30,'#999',1,DASH),
  L(-3.3,18.9,38.5,18.9,'#e53935',1.5,null,11), O(34,17,5,7,'rgba(230,120,120,0.45)')
];
const clNotes = [
  T(48.5,125.1,'key lower high 2022','#46a9c4',10.5),
  L(8.9,123.5,57.1,123.5,'#b5e3ee',1.5), L(-7.4,119.3,57.1,119.3,'#5ec5dc',1.2),
  L(-7.4,117.63,53.1,117.63,'#333',1,DOT), L(12.7,117.6,57.1,117.6,'#5ec5dc',1,[3,3]),
  B(8.7,118.7,'apr high',TXTP,10.5,'#999'),
  L(3.1,117.6,35.9,103.25,'#e8883a',1.2), L(8,80.1,35.9,94.8,'#f3b04f',1.2),
  B(24,110.4,'110','#7070c8',12,'#222'),
  T(7.1,108.6,'B','#e57373',10), T(2.9,88,'A','#e57373',10), T(10.1,77,'C','#e57373',10),
  T(31.9,108.2,'B','#8a2a2a',10,{ring:true}), T(24,85.7,'A','#8a2a2a',10,{ring:true}), T(39,84.1,'C','#8a2a2a',10,{ring:true}),
  L(-7.4,102.4,11,102.4,'#999',1.5,null,11), L(-7,100.3,-0.1,100.3,ARROWBLUE,1,null,5),
  L(-7.4,79.9,13,79.9,'#2e6b3a',1.5), T(16.4,79.7,'0.618','#5a7a5a',10.5),
  L(-7.4,78.97,53,78.97,'#333',1,DOT),
  B(14.3,76.9,'80','#6a3bb0',11,'#444'),
  L(4.2,91.2,13.6,91.2,'#bbb'), T(6.2,90,'91.05','#8f83cf',9),
  T(0,87.4,"'24 high",'#a6dbe7',12), T(-0.5,81.9,"'25 high",'#63bcd4',12), T(25.2,72,"jul '25 high",'#8fd3e3',11),
  L(-7.4,85.6,57.1,85.6,'#b5e3ee',1.5), L(13,80.0,57.1,80.0,'#b5e3ee',1.5), L(-7.4,70.5,57.1,70.5,'#b5e3ee',2),
  L(24,88.7,57.1,88.7,'#aaa',1.5), L(-7.4,87.76,57.1,87.76,'#ef5350',1,DOT),
  L(21,95,29,95,'#f0a0a0',1.5,[1,5]), L(7,79,13,79,'#d0804a',1.5,[1,5]),
  L(-7.4,78.5,-6,78.5,CYAN,1,null,5),
  P([[39,95.4],[36,94.4],[35.4,92],[36.2,89.8]],'rgba(190,190,235,0.4)',5),
  M(40.5,98.5,'20-day',LC20), M(40.5,97.9,'50-day',LC50), M(40.5,96.2,'10-day',LC10), M(40.5,83.4,'100-day',LC100), M(40.5,72,'200-day',LC200),
  L(37,94.7,53,94.7,'#555',1,DOT), L(40,86.4,53,86.4,'#555',1,DOT),
  W(53.4,97.9)
];
const clRsiNotes = [
  R(-7.4,70,57,30,BANDV),
  L(-7.4,70,57,70,'#999',1,DASH), L(-7.4,50,57,50,'#999',1,DASH), L(-7.4,30,57,30,'#999',1,DASH),
  L(-7.4,77.5,7,77.5,'rgba(240,150,150,0.55)',2,null,10), O(10.9,31,5,5,'rgba(230,100,100,0.5)')
];
const xauNotes = [
  T(19.9,4905,'4892','#999',9), L(17.7,4892,28.8,4892,'#a8c4f0',1,[3,2],6), L(28.8,4892,54,4892,'#777',1,DOT),
  L(17.8,4928,17.8,4915,'#333'),
  L(-2.6,4541,58.3,4541,'#8aa070',1,DOT), L(-2.6,4366,54.3,4366,'#333',1,DOT),
  L(22,4503,58.3,4503,'rgba(239,83,80,0.6)'), L(10.9,4404,40.8,4404,'#555'),
  L(41,4597,54,4597,'#777',1,DOT), L(41,4551,57,4551,'#777',1,DOT),
  T(51,4404,'0.618','#555',10), T(35.7,4386,'1 (4,383)','#8a80c0',9), L(26,4386,31.6,4386,'#334488',1.5,[1,6]),
  L(-1.2,4761,14,4761,'#e53935',1.5,[1,6]), L(22,4699,32.5,4699,'#e53935',1.5,[1,6]),
  L(13.5,4842,23.9,4668,'#f3b04f',1.2,null,6), L(8.6,4800,11.3,4769,'rgba(243,176,79,0.6)',1.2),
  L(-2.3,4657,29,4657,'#5ab8d6',1,null,6),
  L(0.1,4794,7,4794,'#999',1,null,6), L(0.1,4794,0.1,4760,'#999'),
  L(25.2,4765,31,4765,'#888',1,null,6), L(25.2,4765,25.2,4690,'#888'), L(19,4514,25,4514,'#888',1,null,6),
  L(15,4660,18,4660,'#999',1,null,5), L(-2.3,4583,2.9,4583,'#999',1,null,5), L(2,4622,4,4622,'#999',1,null,5),
  L(-2.6,4406,0.1,4406,CYAN,1.5,null,9), L(-2.6,4383,2,4383,CYAN,1.5,null,9),
  T(-2,4671,'55','#a99ad8',8),
  M(41.7,4803,'100-day',LC100), M(41.7,4631,'50-day',LC50), M(41.7,4589,'20-day',LC20), M(41.7,4526,'10-day',LC10), M(41.7,4404,'200-day',LC200),
  W(54.6,4647)
];
const xauRsiNotes = [
  R(-2.6,70,58.3,30,'rgba(110,100,70,0.10)'),
  L(-2.6,70,58.3,70,'#666',1,DASH), L(-2.6,50,58.3,50,'#999',1,DASH), L(-2.6,30,58.3,30,'#666',1,DASH),
  L(6.1,69.6,13,64.5,'#e57373',1,null,5)
];
const eurNotes = [
  L(-10.3,1.1849,54.5,1.1849,'#333',1,DOT), L(-10.3,1.1658,52,1.1658,'#8cb37e',1,DOT), L(-10.3,1.1443,54.8,1.1443,'#333',1,DOT),
  L(-10.3,1.1834,16.1,1.1834,'#777',1.5,null,11), T(-9.4,1.1845,'834','#a99ad8',8),
  L(-6.9,1.1639,-6.9,1.1626,'#555'), L(-6.9,1.1639,11,1.1639,'#4477ee',2,null,10),
  L(-5.8,1.1638,6.2,1.1617,'rgba(243,176,79,0.5)',1.5),
  L(-10.3,1.1531,0,1.1531,'#888',1.5,null,7),
  L(-10.3,1.1510,31,1.1510,'#777',1.5,null,10), T(28.1,1.1495,'1.1507','#5a5aa8',10),
  L(-10.3,1.1470,4.1,1.1470,'#4fc3e0',1.5,null,10), L(-9.4,1.1420,5,1.1466,'rgba(243,176,79,0.5)',1.5),
  L(11.9,1.1579,36.1,1.1579,'#2e6b3a',1.5), T(39.1,1.1578,'0.618','#4a6a4a',10),
  L(16.1,1.1669,35.9,1.1669,'rgba(230,100,100,0.7)',1,null,6), L(21.2,1.1656,37,1.1656,'rgba(230,100,100,0.7)',1,null,6),
  M(42.6,1.1699,'100-day',LC100), M(42.6,1.1680,'200-day','#8a8a8a'), M(42.6,1.1672,'20-day',LC20), M(42.6,1.1666,'50-day',LC50), M(42.6,1.1632,'10-day','#9a5cc4'),
  L(42,1.1687,55,1.1687,'#555',1,DOT), L(41,1.1586,55,1.1586,'#555',1,DOT), L(42,1.1636,52,1.1636,'#555',1,DOT),
  W(55.3,1.1558)
];
const eurRsiNotes = [
  L(-10.3,70,58,70,'#999',1,DASH), L(-10.3,50,58,50,'#999',1,DASH), L(-10.3,30.3,58,30.3,'#999',1,DASH),
  O(5.9,74.5,5,5,'rgba(240,230,130,0.65)'), O(10,82,5,5,'rgba(230,120,120,0.5)')
];
const gbpNotes = [
  L(11.3,1.3694,59,1.3694,'#7fd3e6',1.5), L(-10.2,1.3658,54.6,1.3658,'#333',1,DOT),
  L(-10.2,1.3568,59,1.3568,'#a8dcf2',1), L(-10.2,1.3447,52,1.3447,'#555',1,DOT), L(-10.2,1.3159,54.8,1.3159,'#333',1,DOT),
  L(12.1,1.3600,32,1.3600,'#666',2,null,10), L(9,1.3589,14,1.3589,'#999',1,null,6), L(9,1.3589,9,1.3565,'#999'),
  B(10.6,1.3616,'apr high','#a88ad8',10.5,'#333'),
  L(-10.2,1.3487,12,1.3487,'#888',2,null,10), L(5,1.3487,5,1.3390,'#999'),
  L(-10.2,1.3434,2.1,1.3434,'#e57373',2,null,9),
  L(-10.2,1.3254,3.2,1.3254,'#999',1.5,null,6), L(-10.2,1.3215,5,1.3215,'#777',1.5,null,9), L(-10.2,1.3183,16,1.3183,'#999',1.5,null,10), L(-10.2,1.3340,-3,1.3340,'#aaa',1,null,5),
  T(8.7,1.3196,'1.3180','#9a8fd8',10),
  L(16,1.3450,22.1,1.3450,'#f59a23',2), T(19.1,1.3438,'1.3450','#8fa3e0',9),
  L(32.8,1.3477,37.3,1.3477,'rgba(230,120,120,0.7)',2), L(21.8,1.3556,25,1.3556,'#e53935',1.5,[1,5]),
  T(-6.8,1.3516,'iv','#8a2a9a',12), B(-9.4,1.3526,'h',TXTP,10.5,'#555'),
  T(-2,1.3137,'v','#8a2a9a',11,{clip:true}), B(5.8,1.3136,'mar ytd low',TXTP,10.5,'#333',null,{clip:true}),
  M(42.8,1.3480,'20-day',LC20), M(42.8,1.3473,'100-day',LC100), M(42.8,1.3444,'50-day',LC50), M(42.8,1.3438,'10-day','#a85cc4'), M(42.8,1.3421,'200-day','#333'),
  L(38,1.3509,55,1.3509,'#666',1,DOT), L(41,1.3368,55,1.3368,'#666',1,DOT),
  W(54.8,1.3336)
];
const gbpRsiNotes = [
  R(-10.2,70,59,30,'rgba(70,100,180,0.12)'),
  L(-10.2,70,59,70,'#778',1,DASH), L(-10.2,50,59,50,'#99a',1,DASH), L(-10.2,30,59,30,'#778',1,DASH),
  L(9.2,75.7,25,66.6,'#e57373',1,null,5)
];
const jpyNotes = [
  T(55.5,161.62,'ATH','#3a7a4a',14,{clip:true}),
  B(25,161.05,'may ytd high',TXTP,9.5,'#555','#fff'),
  T(11.7,160.6,'160.46','#9a8fd8',9), L(-2,160.46,25,160.46,'#6fd0e6',1.5,null,10),
  L(-6.3,159.75,24,159.75,'#777',2,null,10),
  L(5,157.89,34,157.89,'#888',1.5,null,6), T(24.5,158.02,'157.89','#8a80d0',9),
  L(-6.3,157.66,14,157.66,'#5b8ff9',2,null,7),
  L(-2,160.44,13.9,159,'rgba(243,176,79,0.3)',1), L(-3.2,158.51,12.9,157.4,'rgba(243,176,79,0.3)',1),
  L(29,158.12,35,158.12,'#e53935',1.5,[1,6]),
  L(-6.3,156.89,59,156.89,'#cccccc',1.5),
  L(21,155.5,25,155.5,'#6aa84f'), T(29,155.5,'(155.50)','#9cc79c',9),
  L(30,160.72,55.3,160.72,'#888',1,DOT), L(-6.3,159.23,52,159.23,'#777',1,DOT),
  L(38,158.73,52,158.73,'#777',1,DOT), L(41,159.67,55,159.67,'#999',1,DOT),
  L(-6.3,155.01,16,155.01,'#777',1,DOT), L(49,155.01,55,155.01,'#777',1,DOT),
  B(19.75,155,'may low',TXTP,10.5,'#222','#fff'),
  M(42.7,159.11,'10-day',LC10), M(42.7,158.8,'50-day',LC50), M(42.7,158.29,'20-day',LC20), M(42.7,157.66,'100-day',LC100), M(42.7,155.04,'200-day',LC200),
  W(55.6,158.25)
];
const jpyRsiNotes = [
  R(-6.3,70,59.3,30,BANDV),
  L(-6.3,70,59.3,70,'#999',1,DASH), L(-6.3,50,59.3,50,'#999',1,DASH), L(-6.3,30,59.3,30,'#999',1,DASH),
  L(-2.3,65,18.2,40.8,'rgba(230,120,120,0.5)',1.5,null,8), O(14.2,50.5,12,10,'rgba(240,200,130,0.45)'),
  L(21,26.3,28,30.6,'#777',1,null,6)
];

const tagOf = (v, text, bg, at, side, w, fg) => ({ v, text, bg, at: at == null ? v : at, side, w, fg });
const esTags = [tagOf(7612,'7,612',INK,7619,'High'),tagOf(7591,'7,591',GREEN,7592),tagOf(7486,'7,486',PURPLE,7487),tagOf(7432,'7,432',GREEN),tagOf(7090,'7,090',RED,7104)];
const nqTags = [tagOf(30536,'30,536',INK,30556,'High'),tagOf(30390,'30,390',GREEN),tagOf(29628,'29,628',PURPLE),tagOf(29223,'29,223',GREEN,29230)];
const znTags = [tagOf(112.09,'112.09',GREY,112.10),tagOf(111.86,'111.86',INK,111.86,'High'),tagOf(111.43,'111.43',BLUE),tagOf(110.56,'110.56',RED,110.54),tagOf(109.92,'109.92',GREEN,110.09),tagOf(109.88,'109.88',GREEN),tagOf(109.75,'109.75',RED,109.65),tagOf(109.46,'109.46',PURPLE,109.44),tagOf(108.56,'108.56',INK,108.56,'Low'),tagOf(108.13,'108.13',CYAN)];
const clTags = [tagOf(123.68,'123.68',CYAN,124.9,null,36),tagOf(119.48,'119.48',CYAN,122.4,null,36),tagOf(117.63,'117.63',CYAN,119.95,null,36),tagOf(117.63,'117.63',INK,117.5,'High',36),tagOf(98.16,'98.16',GREEN,101.03),tagOf(97.59,'97.59',RED,98.53),tagOf(96.1,'96.10',PURPLE,96.04),tagOf(88.66,'88.66',GREY,90.25),tagOf(87.76,'87.76',RED),tagOf(85.58,'85.58',CYAN,85.07),tagOf(83.34,'83.34',BLUE,82.57),tagOf(79.97,'79.97',CYAN,80.08),tagOf(78.97,'78.97',INK,77.5,'Low'),tagOf(71.96,'71.96',GREY,72),tagOf(70.51,'70.51',CYAN,69.4)];
const xauTags = [tagOf(4892,'4,892',INK,4892,'High'),tagOf(4802,'4,802',BLUE),tagOf(4628,'4,628',RED,4631),tagOf(4586,'4,586',GREEN,4589),tagOf(4541,'4,541',GREEN,4542.5),tagOf(4522,'4,522',PURPLE,4514),tagOf(4501,'4,501',RED,4485),tagOf(4400,'4,400',GREY,4404),tagOf(4366,'4,366',INK,4370,'Low')];
const eurTags = [tagOf(1.1919,'1.1919',CYAN,1.1905),tagOf(1.1849,'1.1849',INK,1.1849,'High'),tagOf(1.1697,'1.1697',BLUE,1.1739),tagOf(1.168,'1.1680',INK,1.1719),tagOf(1.1673,'1.1673',GREEN,1.1699),tagOf(1.1665,'1.1665',RED,1.1679),tagOf(1.1658,'1.1658',GREEN),tagOf(1.163,'1.1630',PURPLE,1.1631),tagOf(1.1443,'1.1443',INK,1.1443,'Low'),tagOf(1.1411,'1.1411',CYAN,1.1425)];
const gbpTags = [tagOf(1.3694,'1.3694',CYAN),tagOf(1.3658,'1.3658',INK,1.3658,'High'),tagOf(1.3568,'1.3568','#9fc5f8',1.3568,null,null,'#3d4f70'),tagOf(1.348,'1.3480',GREEN,1.3499),tagOf(1.3474,'1.3474',BLUE,1.3473),tagOf(1.3447,'1.3447',GREEN),tagOf(1.3444,'1.3444',RED,1.3422),tagOf(1.3438,'1.3438',PURPLE,1.3397),tagOf(1.342,'1.3420','#000',1.3371),tagOf(1.3159,'1.3159',INK,1.3159,'Low')];
const jpyTags = [tagOf(160.72,'160.72',INK,160.72,'High'),tagOf(159.23,'159.23',GREEN),tagOf(159.1,'159.10',PURPLE,158.92),tagOf(158.78,'158.78',RED,158.61),tagOf(158.28,'158.28',GREEN),tagOf(157.65,'157.65',BLUE,157.62),tagOf(156.89,'156.89',GREY),tagOf(155.04,'155.04',GREY),tagOf(155.03,'155.03',INK,154.72,'Low')];

const esRsiTags = [tagOf(77.25,'77.25',RSI_TAG,78)];
const nqRsiTags = [tagOf(81.23,'81.23',RSI_TAG,79.6)];
const znRsiTags = [tagOf(53.95,'53.95',RSI_TAG)];
const xauRsiTags = [tagOf(48.87,'48.87',RSI_TAG)];
const eurRsiTags = [tagOf(53.11,'53.11',RSI_TAG),tagOf(20.73,'20.73','#173a2b',30.3)];
const gbpRsiTags = [tagOf(48.65,'48.65',RSI_TAG)];
const jpyRsiTags = [tagOf(60.17,'60.17',RSI_TAG)];

// One row per pane: geometry, scale limits, and which value lists it draws
const panels = [
  { id:'es', title:'ESM2026 · 1D', ohlc:'O7,588  H7,612  L7,573  C7,591', bg:'#dddddd', box:[5,375,5,413], sep:313.3, rsiBottom:390, labelY:400, day0:13.3, dayPx:5.63, yRange:[7095.1,7773.3], rsiRange:[32,99.7], ticks:esTicks, dec:0, rsiTicks:esRsiTicks, rsiWidth:1.6, rsiColor:'#7459c4', start:esStart, candles:esCandles, weekly:esWeekly, weekDay:53.8, weekW:33, mas:[[esMa10,C10,1],[esMa20,C20,1]], rsi:esRsi, glow:true, notes:esNotes, rsiNotes:esRsiNotes, tags:esTags, rsiTags:esRsiTags, tagLeft:339, tagW:32, rsiTagW:32, months:[[0,'Apr'],[22,'May'],[42,'Jun']], legend:[13,20,38,107.7], tickRight:8.3 },
  { id:'nq', title:'NQM2026 · 1D', ohlc:'O30,328  H30,536  L30,217  C30,390', bg:'#ffffff', box:[376,799,5,413], sep:309.5, rsiBottom:388.5, labelY:399, day0:434.5, dayPx:5.467, yRange:[27465,31046], rsiRange:[40,103.2], ticks:nqTicks, dec:0, rsiTicks:nqRsiTicks, rsiWidth:1.6, rsiColor:'#7459c4', start:nqStart, candles:nqCandles, weekly:nqWeekly, weekDay:54, weekW:33, mas:[[nqMa10,C10,1],[nqMa20,'#6fb162',1]], rsi:nqRsi, glow:true, notes:nqNotes, rsiNotes:nqRsiNotes, tags:nqTags, rsiTags:nqRsiTags, tagLeft:754, tagW:39, rsiTagW:35, months:[[0,'Apr'],[22,'May'],[42,'Jun']], legend:[384.7,20,38,483], tickRight:9.7 },
  { id:'zn', title:'ZN1! · 1D', ohlc:'O109.83  H110.02  L109.72  C109.88', bg:'#cfe5c8', box:[800,1199,5,413], sep:309.5, rsiBottom:396.7, labelY:400, day0:819.2, dayPx:5.85, yRange:[107.83,113.11], rsiRange:[-3.3,63.6], ticks:znTicks, dec:2, rsiTicks:znRsiTicks, rsiWidth:1.6, rsiColor:'#7459c4', start:znStart, candles:znCandles, weekly:znWeekly, weekDay:54, weekW:34, mas:[[znMa200,C200,1],[znMa100,C100,1.3],[znMa50,C50,1.1],[znMa20,C20,1],[znMa10,'#9a5cc4',1]], rsi:znRsi, notes:znNotes, rsiNotes:znRsiNotes, tags:znTags, rsiTags:znRsiTags, tagLeft:1157.7, tagW:36, rsiTagW:32, months:[[0,'Apr'],[22,'May'],[42,'Jun']], legend:[808,20,38,878], tickRight:9 },
  { id:'cl', title:'CL1! · 1D', ohlc:'O88.55  H89.02  L86.35  C87.76', bg:'#ffffff', box:[1200,1594,5,413], sep:315, rsiBottom:390, labelY:400, day0:1240.7, dayPx:5.46, yRange:[65.07,127.69], rsiRange:[26.5,86.7], rsiLog:true, ticks:clTicks, dec:2, rsiTicks:clRsiTicks, rsiWidth:1, rsiColor:'#8f77cf', start:clStart, candles:clCandles, weekly:clWeekly, weekDay:53, weekW:33, mas:[[clMa200,C200,1],[clMa100,C100,1.2],[clMa50,C50,1],[clMa20,C20,1],[clMa10,'#9a5cc4',1]], rsi:clRsi, notes:clNotes, rsiNotes:clRsiNotes, tags:clTags, rsiTags:[], tagLeft:1553, tagW:32, rsiTagW:32, months:[[0,'Apr'],[21,'May'],[41,'Jun']], legend:[1208,20,38,1278], tickRight:8.3 },
  { id:'xau', title:'XAUUSD · 1D', ohlc:'O4,497  H4,595  L4,489  C4,541', bg:'#fdf6c4', box:[6,372,416,803], sep:723.3, rsiBottom:786.7, labelY:792, day0:20, dayPx:5.433, yRange:[4221,4932], rsiRange:[-1.5,79.4], ticks:xauTicks, dec:0, rsiTicks:xauRsiTicks, rsiWidth:1, rsiColor:'#8f77cf', start:xauStart, candles:xauCandles, weekly:xauWeekly, weekDay:54, weekW:33, mas:[[xauMa200,C200,1],[xauMa100,C100,1.2],[xauMa50,C50,1],[xauMa20,C20,1],[xauMa10,'#9a5cc4',1]], rsi:xauRsi, notes:xauNotes, rsiNotes:xauRsiNotes, tags:xauTags, rsiTags:xauRsiTags, tagLeft:337.3, tagW:32, rsiTagW:32, months:[[0,'Apr'],[21,'May'],[42,'Jun']], legend:[13.3,429.3,447.7,104], tickRight:7 },
  { id:'eur', title:'EURUSD · 1D', ohlc:'O1.1650  H1.1686  L1.1625  C1.1658', bg:'#dddddd', box:[374,799,415,803], sep:717.7, rsiBottom:786.7, labelY:792, day0:432.3, dayPx:5.55, yRange:[1.14206,1.19161], rsiRange:[19.7,86.5], ticks:eurTicks, dec:4, rsiTicks:eurRsiTicks, rsiWidth:1.6, rsiColor:'#7459c4', start:eurStart, candles:eurCandles, weekly:eurWeekly, weekDay:55, weekW:33, mas:[[eurMa200,'#111',2],[eurMa100,C100,1.2],[eurMa50,C50,1],[eurMa20,C20,1],[eurMa10,'#9a5cc4',1]], rsi:eurRsi, notes:eurNotes, rsiNotes:eurRsiNotes, tags:eurTags, rsiTags:eurRsiTags, tagLeft:759, tagW:36, rsiTagW:32, months:[[0,'Apr'],[22,'May'],[43,'Jun']], legend:[382.7,429.3,447.7,472.7], tickRight:8.3 },
  { id:'gbp', title:'GBPUSD · 1D', ohlc:'O1.3444  H1.3485  L1.3408  C1.3447', bg:'#bce7ef', box:[800,1199,415,803], sep:716, rsiBottom:786.7, labelY:792, day0:852.7, dayPx:5.15, yRange:[1.31338,1.37407], rsiRange:[8,84.8], ticks:gbpTicks, dec:4, rsiTicks:gbpRsiTicks, rsiWidth:1, rsiColor:'#8f77cf', start:gbpStart, candles:gbpCandles, weekly:gbpWeekly, weekDay:55, weekW:31, mas:[[gbpMa200,'#8d9a9a',2.5],[gbpMa100,C100,1.2],[gbpMa50,C50,1],[gbpMa20,'#5ea350',1.5],[gbpMa10,'#9a5cc4',1]], rsi:gbpRsi, notes:gbpNotes, rsiNotes:gbpRsiNotes, tags:gbpTags, rsiTags:gbpRsiTags, tagLeft:1158, tagW:36, rsiTagW:32, months:[[0,'Apr'],[22,'May'],[43,'Jun']], legend:[808,429.3,447.7,899], tickRight:9 },
  { id:'jpy', title:'USDJPY · 1D', ohlc:'O159.23  H159.38  L159.10  C159.23', bg:'#ffffff', box:[1200,1594,415,803], sep:700, rsiBottom:786.7, labelY:792, day0:1234, dayPx:5.367, yRange:[154.61,161.62], rsiRange:[17.8,80.8], ticks:jpyTicks, dec:2, rsiTicks:jpyRsiTicks, rsiWidth:1, rsiColor:'#8f77cf', start:jpyStart, candles:jpyCandles, weekly:jpyWeekly, weekDay:55, weekW:33, mas:[[jpyMa200,C200,1],[jpyMa100,C100,1.2],[jpyMa50,C50,1],[jpyMa20,C20,1],[jpyMa10,'#9a5cc4',1]], rsi:jpyRsi, notes:jpyNotes, rsiNotes:jpyRsiNotes, tags:jpyTags, rsiTags:jpyRsiTags, tagLeft:1553, tagW:36, rsiTagW:32, months:[[0,'Apr'],[22,'May'],[43,'Jun']], legend:[1208,429.3,447.7,1297], tickRight:8.3 }
];

function drawNote(n, api, cs) {
  const clipRect = { type: 'rect', shape: { x: cs.x, y: cs.y, width: cs.width, height: cs.height } };
  if (n.k === 'line') {
    const pts = n.p.map(q => api.coord(q));
    const out = [{ type: 'polyline', shape: { points: pts }, style: { stroke: n.c, lineWidth: n.w, lineDash: n.dash || null, fill: null } }];
    if (n.arrow) {
      const a = pts[pts.length - 2], b = pts[pts.length - 1];
      const ang = Math.atan2(b[1] - a[1], b[0] - a[0]);
      const s = n.arrow;
      const wing = d => [b[0] - s * Math.cos(ang + d), b[1] - s * Math.sin(ang + d)];
      out.push({ type: 'polyline', shape: { points: [wing(0.65), b, wing(-0.65)] }, style: { stroke: n.c, lineWidth: Math.max(n.w, 1.2), fill: null } });
    }
    return out;
  }
  if (n.k === 'rect') {
    const a = api.coord([n.x1, n.y1]), b = api.coord([n.x2, n.y2]);
    return [{ type: 'rect', shape: { x: a[0], y: a[1], width: b[0] - a[0], height: b[1] - a[1] }, style: { fill: n.c } }];
  }
  if (n.k === 'oval') {
    const a = api.coord([n.x, n.y]);
    return [{ type: 'ellipse', shape: { cx: a[0], cy: a[1], rx: n.rx, ry: n.ry }, style: { fill: n.c } }];
  }
  const a = api.coord([n.x, n.y]);
  const style = { x: a[0], y: a[1], text: n.t, fill: n.c, font: (n.box ? '500 ' : '') + (n.s * 0.88) + 'px ' + FONT, align: n.align || 'center', verticalAlign: 'middle' };
  if (n.box) Object.assign(style, { backgroundColor: n.bg || 'transparent', borderColor: n.border, borderWidth: 1, padding: n.pad || [2, 3, 2, 3] });
  if (n.lh) style.lineHeight = n.lh;
  if (n.ring) Object.assign(style, { borderColor: n.c, borderWidth: 1, borderRadius: 7, padding: [1, 3, 1, 3] });
  const el = { type: 'text', style };
  if (n.clip) el.clipPath = clipRect;
  return [el];
}

function noteSeries(list, xi, z) {
  return {
    type: 'custom', coordinateSystem: 'cartesian2d', xAxisIndex: xi, yAxisIndex: xi, z, silent: true, clip: false,
    data: list.map(() => [0, 50]),
    renderItem: (params, api) => ({ type: 'group', children: drawNote(list[params.dataIndex], api, params.coordSys) })
  };
}

function tagSeries(list, xi, pane, hh) {
  return {
    type: 'custom', coordinateSystem: 'cartesian2d', xAxisIndex: xi, yAxisIndex: xi, z: 20, silent: true, clip: false,
    data: list.map(() => [0, 50]),
    renderItem: (params, api) => {
      const t = list[params.dataIndex];
      const w = t.w || hh.w;
      let y = api.coord([0, t.at])[1];
      y = Math.min(Math.max(y, pane[0] + 6), pane[1] - 6);
      const font = '600 9.8px ' + FONT;
      const kids = [
        { type: 'rect', shape: { x: hh.x, y: y - 6, width: w, height: 12, r: 1 }, style: { fill: t.bg } },
        { type: 'text', style: { x: hh.x + w / 2, y, text: t.text, fill: t.fg || '#fff', font, align: 'center', verticalAlign: 'middle' } }
      ];
      if (t.side) {
        kids.push({ type: 'rect', shape: { x: hh.x - 24.5, y: y - 6, width: 23, height: 12, r: 1 }, style: { fill: INK } });
        kids.push({ type: 'text', style: { x: hh.x - 13, y, text: t.side, fill: '#fff', font, align: 'center', verticalAlign: 'middle' } });
      }
      return { type: 'group', children: kids };
    }
  };
}

function fmt(v, dec) {
  return v.toLocaleString('en-US', { minimumFractionDigits: dec, maximumFractionDigits: dec });
}

const grid = [], xAxis = [], yAxis = [], series = [], graphic = [];
panels.forEach((p, idx) => {
  const [L0, R0, T0, B0] = p.box;
  const wid = R0 - L0;
  const xMin = (L0 - p.day0) / p.dayPx, xMax = (R0 - p.day0) / p.dayPx;
  const main = idx * 2, lower = main + 1;
  grid.push({ left: L0, top: T0, width: wid, height: p.sep - T0, show: false });
  grid.push({ left: L0, top: p.sep, width: wid, height: p.rsiBottom - p.sep, show: false });

  xAxis.push({ gridIndex: main, type: 'value', min: xMin, max: xMax, axisLabel: { show: false }, axisTick: { show: false }, splitLine: { show: false }, axisLine: { onZero: false, lineStyle: { color: '#222', width: 1 } } });
  xAxis.push({ gridIndex: lower, type: 'value', min: xMin, max: xMax, splitLine: { show: false }, axisTick: { show: false }, axisLine: { show: false },
    axisLabel: { customValues: p.months.map(m => m[0]), formatter: v => { const m = p.months.find(q => q[0] === v); return m ? m[1] : ''; }, color: '#333', fontSize: 9.5, fontFamily: FONT, fontWeight: 500, margin: p.labelY - p.rsiBottom - 5, hideOverlap: false } });

  const yLabel = dec => ({ inside: true, margin: p.tickRight, color: '#3c3c3c', fontSize: 9.6, fontFamily: FONT, formatter: v => fmt(v, dec), padding: [0, 0, 2, 0] });
  yAxis.push({ gridIndex: main, type: 'value', position: 'right', min: p.yRange[0], max: p.yRange[1], axisLine: { show: false }, axisTick: { show: false }, splitLine: { show: false },
    axisLabel: { ...yLabel(p.dec), customValues: p.ticks } });
  yAxis.push({ gridIndex: lower, type: p.rsiLog ? 'log' : 'value', logBase: 2, position: 'right', min: p.rsiRange[0], max: p.rsiRange[1], axisLine: { show: false }, axisTick: { show: false }, splitLine: { show: false },
    axisLabel: { ...yLabel(2), customValues: p.rsiTicks, padding: 0 } });

  // Daily candles, then the one-bar weekly summary to their right
  series.push({ type: 'candlestick', name: p.id + ' daily', xAxisIndex: main, yAxisIndex: main, z: 3, barWidth: 4.4, encode: { x: 0, y: [1, 2, 3, 4] },
    itemStyle: { color: GREEN, color0: RED, borderColor: '#2a2a2a', borderColor0: '#2a2a2a', borderWidth: 0.8 },
    data: p.candles.map((c, i) => [p.start + i, ...c]) });
  series.push({ type: 'candlestick', name: p.id + ' weekly', xAxisIndex: main, yAxisIndex: main, z: 3, barWidth: p.weekW, encode: { x: 0, y: [1, 2, 3, 4] },
    itemStyle: { color: GREEN, color0: RED, borderColor: '#777', borderColor0: '#777', borderWidth: 1 },
    data: [[p.weekDay, ...p.weekly]] });

  p.mas.forEach(([data, color, width]) => {
    series.push({ type: 'line', xAxisIndex: main, yAxisIndex: main, z: 2, data, showSymbol: false, smooth: 0.25, silent: true, lineStyle: { color, width } });
  });

  if (p.glow) {
    series.push({ type: 'line', xAxisIndex: lower, yAxisIndex: lower, z: 2, data: p.rsi.map(([x, v]) => [x, Math.max(v, 70)]), showSymbol: false, silent: true, lineStyle: { width: 0 },
      areaStyle: { origin: 70, color: { type: 'linear', x: 0, y: 0, x2: 0, y2: 1, colorStops: [{ offset: 0, color: 'rgba(90,170,90,0.6)' }, { offset: 1, color: 'rgba(90,170,90,0.03)' }] } } });
  }
  series.push({ type: 'line', xAxisIndex: lower, yAxisIndex: lower, z: 4, data: p.rsi, showSymbol: false, silent: true, lineStyle: { color: p.rsiColor, width: p.rsiWidth } });

  series.push(noteSeries(p.notes, main, 10));
  series.push(noteSeries(p.rsiNotes.filter(n => n.k === 'rect'), lower, 1));
  series.push(noteSeries(p.rsiNotes.filter(n => n.k !== 'rect'), lower, 10));
  series.push(tagSeries(p.tags, main, [T0, p.sep], { x: p.tagLeft, w: p.tagW }));
  if (p.rsiTags.length) series.push(tagSeries(p.rsiTags, lower, [p.sep, p.rsiBottom], { x: p.tagLeft, w: p.rsiTagW }));

  // Pane card and its legend lines; the legend rows sit on opaque strips that hide whatever runs behind them
  graphic.push({ type: 'rect', z: -10, shape: { x: L0, y: T0, width: wid, height: B0 - T0, r: 3 }, style: { fill: p.bg } });
  const [lx, ly1, ly2, pillX] = p.legend;
  graphic.push({ type: 'rect', z: 50, shape: { x: L0 + 1, y: T0 + 1, width: pillX + 11 - L0, height: ly1 + 9 - T0 }, style: { fill: p.bg } });
  graphic.push({ type: 'rect', z: 50, shape: { x: L0 + 1, y: ly2 - 8, width: lx - L0 + p.ohlc.length * 5.4, height: 15.5 }, style: { fill: p.bg } });
  graphic.push({ type: 'text', z: 100, style: { x: lx, y: ly1, text: p.title, fill: '#1d1d1d', font: '12.6px ' + FONT, verticalAlign: 'middle' } });
  graphic.push({ type: 'text', z: 100, style: { x: lx - 1, y: ly2, text: p.ohlc, fill: '#1d1d1d', font: '11.1px ' + FONT, verticalAlign: 'middle' } });
  graphic.push({ type: 'circle', z: 100, shape: { cx: pillX, cy: ly1 - 0.5, r: 7.5 }, style: { fill: 'rgba(120,120,120,0.12)' } });
  graphic.push({ type: 'rect', z: 101, shape: { x: pillX - 4, y: ly1 - 1.5, width: 8, height: 2, r: 1 }, style: { fill: '#aaa' } });
});

// Session-clock badges on the two index panes
[[321.7, 302.7], [735, 297.7]].forEach(([cx, cy]) => {
  graphic.push({ type: 'circle', z: 100, shape: { cx, cy, r: 8.5 }, style: { fill: '#fff', stroke: '#444', lineWidth: 1.5 } });
  graphic.push({ type: 'polygon', z: 101, shape: { points: [[cx - 3, cy - 4], [cx + 3, cy - 4], [cx - 3, cy + 4], [cx + 3, cy + 4]] }, style: { fill: '#555' } });
});

// Platform mark and settings badge on the gold pane
graphic.push({ type: 'polygon', z: 100, shape: { points: [[16, 757], [28, 757], [28, 770], [22, 770], [22, 762], [16, 762]] }, style: { fill: '#111', stroke: '#fff', lineWidth: 1 } });
graphic.push({ type: 'circle', z: 100, shape: { cx: 32.5, cy: 759.5, r: 2.5 }, style: { fill: '#111', stroke: '#fff', lineWidth: 1 } });
graphic.push({ type: 'polygon', z: 100, shape: { points: [[36, 757], [43, 757], [36, 770], [29, 770]] }, style: { fill: '#111', stroke: '#fff', lineWidth: 1 } });
graphic.push({ type: 'polygon', z: 100, shape: { points: [[349, 793], [352, 788], [358, 788], [361, 793], [358, 798], [352, 798]] }, style: { fill: 'none', stroke: '#333', lineWidth: 1 } });
graphic.push({ type: 'circle', z: 100, shape: { cx: 355, cy: 793, r: 2 }, style: { fill: 'none', stroke: '#333', lineWidth: 1 } });

const chart = echarts.init(document.getElementById('chart'), null, { renderer: 'canvas', width: 1600, height: 808 });
chart.setOption({ animation: false, backgroundColor: '#222222', textStyle: { fontFamily: FONT }, tooltip: { show: false }, legend: { show: false }, grid, xAxis, yAxis, series, graphic });
</script>
</body>
</html>
